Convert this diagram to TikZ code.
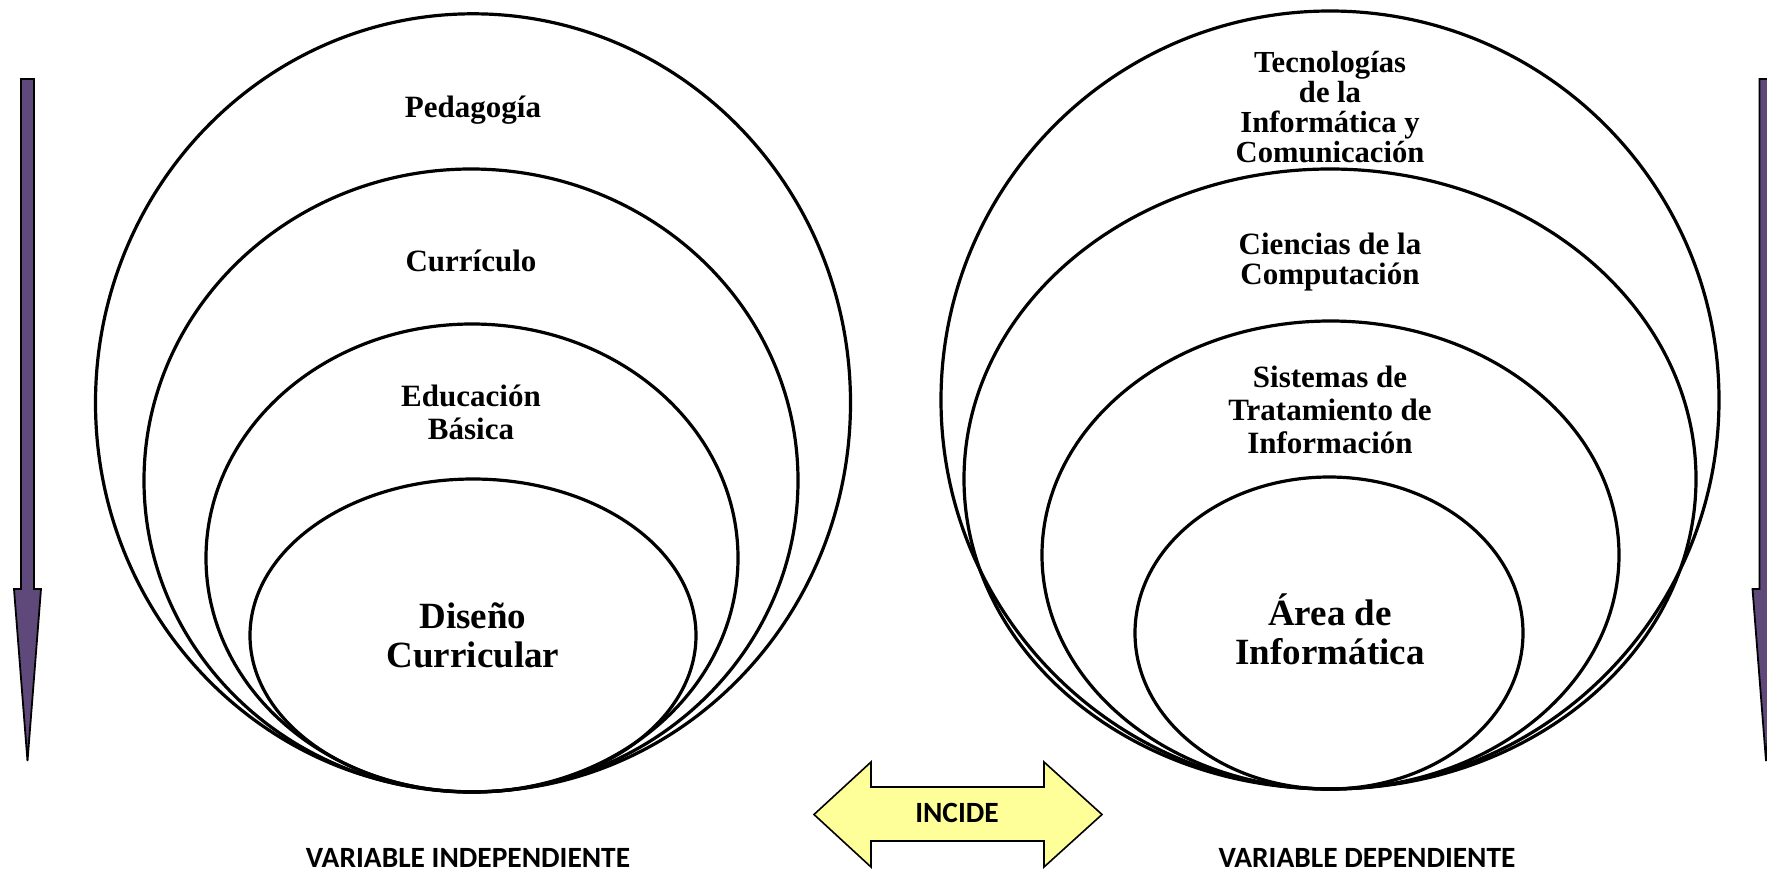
\documentclass[tikz,border=0pt]{standalone}
\usepackage{fontspec}
\setmainfont{Liberation Serif}
\newfontfamily\labelfont{Carlito}
\definecolor{arrowpurple}{HTML}{5F497A}
\definecolor{arrowyellow}{HTML}{FFFF99}
\tikzset{
  ring/.style={draw=black, line width=1.6pt},
  concept/.style={align=center, font=\bfseries\fontsize{15.5}{16.5}\selectfont},
  core/.style={align=center, font=\bfseries\fontsize{18.5}{19.5}\selectfont},
  caption/.style={inner sep=0pt, font=\labelfont\bfseries\fontsize{14.7}{16}\selectfont},
  downarrow/.style={fill=arrowpurple, draw=black, line width=0.9pt, line join=miter},
  bothways/.style={fill=arrowyellow, draw=black, line width=0.8pt, line join=miter}
}
\begin{document}
\begin{tikzpicture}[x=0.5pt,y=-0.5pt]
\useasboundingbox (0,0) rectangle (1767,872);
\clip (0,0) rectangle (1767,872);

% independent variable: nested rings
\draw[ring] (473,402.8) ellipse [x radius=188.75pt, y radius=194.5pt];
\draw[ring] (471,480.5) ellipse [x radius=163.5pt, y radius=155.75pt];
\draw[ring] (472,558) ellipse [x radius=133pt, y radius=117pt];
\draw[ring] (473,635.5) ellipse [x radius=111.5pt, y radius=78.25pt];

% dependent variable: nested rings
\draw[ring] (1330,400) ellipse [x radius=194.5pt, y radius=194.5pt];
\draw[ring] (1330,479) ellipse [x radius=183pt, y radius=155pt];
\draw[ring] (1330.5,555) ellipse [x radius=144.25pt, y radius=117pt];
\draw[ring] (1329,633) ellipse [x radius=97pt, y radius=78pt];

% labels, left
\node[concept] (ped) at (473,110) {Pedagogía};
\node[concept] (cur) at (471,261) {Currículo};
\node[concept] (edu) at (471,412) {Educación\\Básica};
\node[core] (dis) at (473,635) {Diseño\\Curricular};

% labels, right
\node[concept, font=\bfseries\fontsize{15.3}{15}\selectfont] (tic) at (1330,107) {Tecnologías\\de la\\Informática y\\Comunicación};
\node[concept, font=\bfseries\fontsize{15.5}{15.2}\selectfont] (cc) at (1330,262) {Ciencias de la\\Computación};
\node[concept] (sti) at (1330,410) {Sistemas de\\Tratamiento de\\Información};
\node[core] (ai) at (1330,629) {Área de\\Informática};

% side arrows
\draw[downarrow] (21,79) -- (34,79) -- (34,589) -- (41,589) -- (27.5,761)
  -- (14,589) -- (21,589) -- cycle;
\draw[downarrow] (1759.5,79) -- (1772.5,79) -- (1772.5,589) -- (1779.5,589)
  -- (1766,761) -- (1752.5,589) -- (1759.5,589) -- cycle;

% double arrow between the variables
\draw[bothways] (814,814.5) -- (871,762) -- (871,787) -- (1044,787) -- (1044,762)
  -- (1102,814.5) -- (1044,867) -- (1044,841) -- (871,841) -- (871,867) -- cycle;
\node[caption] (inc) at (957,813) {INCIDE};

% captions
\node[caption] (vi) at (468,858) {VARIABLE INDEPENDIENTE};
\node[caption] (vd) at (1367,858) {VARIABLE DEPENDIENTE};
\end{tikzpicture}
\end{document}
